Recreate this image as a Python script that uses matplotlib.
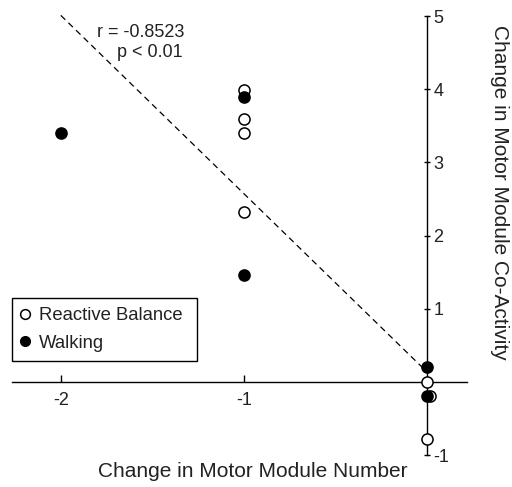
import numpy as np
import matplotlib
matplotlib.use("Agg")
import matplotlib.pyplot as plt
from matplotlib.lines import Line2D
from matplotlib.patches import Rectangle

plt.rcParams['font.family'] = ['Liberation Sans', 'DejaVu Sans']

# ---- data ----
balance_x = [-1, -1, -1, -1, 0, 0.015, 0]
balance_y = [3.99, 3.59, 3.40, 2.32, 0.0, -0.19, -0.78]
walking_x = [-2, -1, -1, 0, 0]
walking_y = [3.40, 3.89, 1.46, 0.20, -0.19]

x_ticks = [-2, -1]
y_ticks = [-1, 1, 2, 3, 4, 5]
stats_r = "r = -0.8523"
stats_p = "p < 0.01"

txt = '#222222'
fs = 13
lab_fs = 15

# regression over both tasks pooled
all_x = np.array(balance_x + walking_x)
all_y = np.array(balance_y + walking_y)
slope, icpt = np.polyfit(all_x, all_y, 1)
fit_x = np.array([all_x.min(), 0])

fig = plt.figure(figsize=(5.12, 4.87), dpi=100)
ax = fig.add_axes([11.7 / 512, 0.0503, (467 - 11.7) / 512, 0.9318])
ax.set_xlim(-2.268, 0.218)
ax.set_ylim(-1.1, 5.1)

ax.plot(fit_x, icpt + slope * fit_x, color='black', linestyle=(0, (5, 3.5)), linewidth=0.9, zorder=2)
ax.plot(balance_x, balance_y, 'o', markersize=8, markerfacecolor='white',
        markeredgecolor='black', markeredgewidth=1.1, linestyle='none', zorder=3)
ax.plot(walking_x, walking_y, 'o', markersize=8, markerfacecolor='black',
        markeredgecolor='black', markeredgewidth=1.1, linestyle='none', zorder=4)

# axes crossing at the origin, y axis drawn on the right spine
for s in ['top', 'left']:
    ax.spines[s].set_visible(False)
ax.spines['bottom'].set_position(('data', 0))
ax.spines['right'].set_position(('data', 0))
ax.spines['right'].set_bounds(-1, 5)
for s in ['bottom', 'right']:
    ax.spines[s].set_linewidth(1.0)
    ax.spines[s].set_zorder(1)

ax.yaxis.tick_right()
ax.set_xticks(x_ticks)
ax.set_xticklabels([str(v) for v in x_ticks])
ax.set_yticks(y_ticks)
ax.set_yticklabels([str(v) for v in y_ticks])
ax.tick_params(axis='x', direction='in', length=5, width=1, pad=7, labelsize=fs, labelcolor=txt)
ax.tick_params(axis='y', direction='inout', length=5, width=1, pad=2, labelsize=fs, labelcolor=txt)

fig.text(0.275, 0.934, stats_r, ha='center', va='center', fontsize=fs, color=txt)
fig.text(0.292, 0.893, stats_p, ha='center', va='center', fontsize=fs, color=txt)

fig.text(0.494, 0.031, "Change in Motor Module Number", ha='center', va='center', fontsize=lab_fs, color=txt)
fig.text(0.975, 0.606, "Change in Motor Module Co-Activity", ha='center', va='center',
         rotation=-90, fontsize=lab_fs, color=txt)

# legend box drawn by hand so the padding matches
ax.add_patch(Rectangle((12 / 512, 1 - 361 / 487), 185 / 512, 63 / 487,
                       transform=fig.transFigure, facecolor='white', clip_on=False,
                       edgecolor='black', linewidth=1.0, zorder=5))
handles = [
    Line2D([], [], marker='o', linestyle='none', markersize=7, markerfacecolor='white',
           markeredgecolor='black', markeredgewidth=1.1),
    Line2D([], [], marker='o', linestyle='none', markersize=7, markerfacecolor='black',
           markeredgecolor='black'),
]
leg = ax.legend(handles, ["Reactive Balance", "Walking"], loc='center left',
                bbox_to_anchor=(19 / 512, 1 - 329.5 / 487), bbox_transform=fig.transFigure,
                fontsize=13.3, frameon=False,
                handlelength=0.6, handletextpad=0.5, borderpad=0, labelspacing=0.55,
                borderaxespad=0)
leg.set_zorder(6)
for t in leg.get_texts():
    t.set_color(txt)

fig.savefig("out.png", dpi=100)
